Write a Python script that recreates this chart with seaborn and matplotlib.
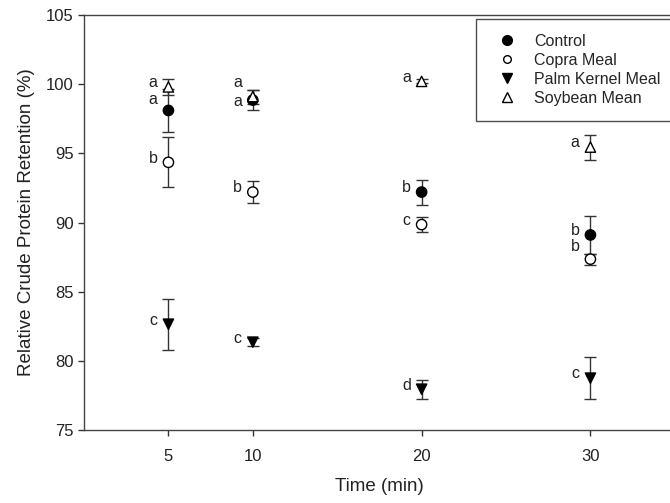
import numpy as np
import pandas as pd
import seaborn as sns
import matplotlib.pyplot as plt
from matplotlib.lines import Line2D

# data
times = [5, 10, 20, 30]
diets = ["Control", "Copra Meal", "Palm Kernel Meal", "Soybean Mean"]

control_mean = [98.1, 98.85, 92.2, 89.1]
control_err = [1.55, 0.75, 0.9, 1.35]
copra_mean = [94.35, 92.2, 89.85, 87.35]
copra_err = [1.8, 0.8, 0.55, 0.4]
palm_mean = [82.65, 81.35, 77.95, 78.75]
palm_err = [1.85, 0.3, 0.7, 1.5]
soy_mean = [99.8, 99.1, 100.2, 95.45]
soy_err = [0.6, 0.5, 0.15, 0.9]

control_letters = ["a", "a", "b", "b"]
copra_letters = ["b", "b", "c", "b"]
palm_letters = ["c", "c", "d", "c"]
soy_letters = ["a", "a", "a", "a"]

xticks = [5, 10, 20, 30]
yticks = [75, 80, 85, 90, 95, 100, 105]

rows = []
for diet, means, errs, letters in [
        ("Control", control_mean, control_err, control_letters),
        ("Copra Meal", copra_mean, copra_err, copra_letters),
        ("Palm Kernel Meal", palm_mean, palm_err, palm_letters),
        ("Soybean Mean", soy_mean, soy_err, soy_letters)]:
    for t, m, e, l in zip(times, means, errs, letters):
        rows.append({"time": t, "diet": diet, "value": m, "err": e, "letter": l})
df = pd.DataFrame(rows)

sns.set_style("ticks")
plt.rcParams['font.family'] = ['Liberation Sans', 'DejaVu Sans']

markers = {"Control": "o", "Copra Meal": "o", "Palm Kernel Meal": "v", "Soybean Mean": "^"}
faces = {"Control": "black", "Copra Meal": "white", "Palm Kernel Meal": "black", "Soybean Mean": "white"}

# small vertical nudges (points) for letters that sit off-centre in the original
nudge = {(5, "Control"): 5, (10, "Soybean Mean"): 7, (10, "Control"): -4, (30, "Copra Meal"): 6}

fig = plt.figure(figsize=(6.7, 5.03), dpi=100)
ax = fig.add_axes([0.1254, 0.1451, 0.8818, 0.8251])

for diet in diets:
    sub = df[df["diet"] == diet]
    ax.errorbar(sub["time"], sub["value"], yerr=sub["err"], fmt="none",
                ecolor="#333333", elinewidth=1, capsize=4.5, capthick=1, zorder=2)

sns.scatterplot(data=df, x="time", y="value", hue="diet", style="diet",
                palette=faces, markers=markers, s=55, edgecolor="black",
                linewidth=1, legend=False, zorder=3, ax=ax)

for _, r in df.iterrows():
    dy = 3 + nudge.get((r["time"], r["diet"]), 0)
    ax.annotate(r["letter"], (r["time"], r["value"]), xytext=(-11, dy),
                textcoords="offset points", ha="center", va="center",
                fontsize=11.5, color="#222222")

ax.set_xlim(0, 35)
ax.set_ylim(75, 105)
ax.set_xticks(xticks)
ax.set_yticks(yticks)
ax.tick_params(direction="out", length=4, width=1, colors="#333333",
               labelsize=12, labelcolor="#222222")
ax.tick_params(axis="x", pad=10)
for s in ["left", "bottom", "top"]:
    ax.spines[s].set_color("#444444")
    ax.spines[s].set_linewidth(1)
ax.spines["right"].set_visible(False)
ax.set_xlabel("Time (min)", fontsize=13.5, color="#222222", labelpad=10)
ax.set_ylabel("Relative Crude Protein Retention (%)", fontsize=13.5, color="#222222", labelpad=8)

handles = [Line2D([], [], ls="none", marker=markers[d], markerfacecolor=faces[d],
                  markeredgecolor="black", markersize=7 if d != "Copra Meal" else 5.5)
           for d in diets]
leg = ax.legend(handles, diets, loc="upper left", mode="expand",
                bbox_to_anchor=(0.6627, 0.990 - 0.2627, 0.3353, 0.2627),
                borderaxespad=0, fontsize=11.5, frameon=True, fancybox=False,
                handlelength=2.07, handletextpad=0.66, borderpad=0.92, labelspacing=0.25)
leg.get_frame().set_edgecolor("#222222")
leg.get_frame().set_linewidth(1)

fig.savefig("out.png", dpi=100)
